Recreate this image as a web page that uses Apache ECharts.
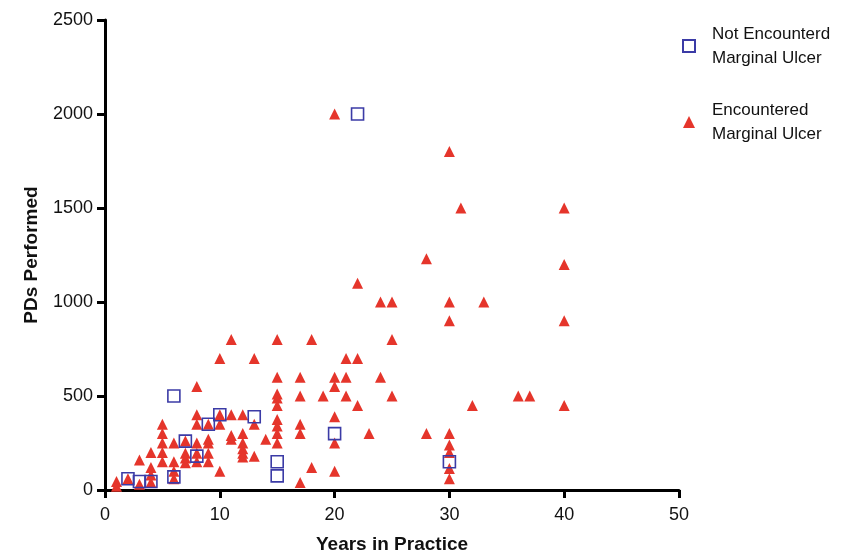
<!DOCTYPE html>
<html>
  <head>
    <meta charset="utf-8">
    <title>PDs Performed vs Years in Practice</title>
    <style>
      html, body { margin: 0; padding: 0; background: #fff; }
      #chart { width: 861px; height: 556px; }
    </style>
  </head>
  <body>
    <div id="chart"></div>
    <script src="https://cdn.jsdelivr.net/npm/echarts@6/dist/echarts.min.js"></script>
    <script>
      // Data: [years in practice, PDs performed]
      var notEncountered = [
        [2, 60], [3, 45], [4, 45], [6, 500], [6, 70], [7, 260], [8, 180],
        [9, 350], [10, 400], [13, 390], [15, 150], [15, 75], [20, 300],
        [22, 2000], [30, 150]
      ];
      var encountered = [
        [1, 45], [1, 20], [2, 60], [3, 160], [3, 30],
        [4, 200], [4, 120], [4, 80], [4, 40],
        [5, 350], [5, 300], [5, 250], [5, 200], [5, 150],
        [6, 250], [6, 150], [6, 100], [6, 60],
        [7, 260], [7, 195], [7, 170], [7, 145],
        [8, 550], [8, 400], [8, 350], [8, 250], [8, 195], [8, 150],
        [9, 350], [9, 270], [9, 250], [9, 195], [9, 150],
        [10, 700], [10, 400], [10, 350], [10, 100],
        [11, 800], [11, 400], [11, 290], [11, 270],
        [12, 400], [12, 300], [12, 250], [12, 220], [12, 195], [12, 175],
        [13, 700], [13, 350], [13, 180], [14, 270],
        [15, 800], [15, 600], [15, 510], [15, 490], [15, 450], [15, 375], [15, 340], [15, 300], [15, 250],
        [17, 600], [17, 500], [17, 350], [17, 300], [17, 40],
        [18, 800], [18, 120], [19, 500],
        [20, 2000], [20, 600], [20, 550], [20, 390], [20, 250], [20, 100],
        [21, 700], [21, 600], [21, 500],
        [22, 1100], [22, 700], [22, 450], [23, 300],
        [24, 1000], [24, 600], [25, 1000], [25, 800], [25, 500],
        [28, 1230], [28, 300],
        [30, 1800], [30, 1000], [30, 900], [30, 300], [30, 240], [30, 200], [30, 115], [30, 60],
        [31, 1500], [32, 450], [33, 1000], [36, 500], [37, 500],
        [40, 1500], [40, 1200], [40, 900], [40, 450]
      ];
      var seriesNames = ['Not Encounterd\nMarginal Ulcer', 'Encountered\nMarginal Ulcer'];

      var chart = echarts.init(document.getElementById('chart'));
      var axisFont = { fontFamily: 'Liberation Sans, Arial, sans-serif', fontSize: 18, color: '#111' };

      chart.setOption({
        animation: false,
        textStyle: { fontFamily: 'Liberation Sans, Arial, sans-serif' },
        grid: { left: 105, right: 182, top: 20, bottom: 66, containLabel: false, outerBoundsMode: 'none' },
        legend: {
          orient: 'vertical',
          left: 677,
          top: 17,
          itemGap: 28,
          itemWidth: 12,
          itemHeight: 12,
          textStyle: { fontSize: 17, lineHeight: 24, color: '#111', padding: [0, 0, 0, 12] },
          data: seriesNames
        },
        xAxis: {
          type: 'value',
          min: 0,
          max: 50,
          interval: 10,
          name: 'Years in Practice',
          nameLocation: 'middle',
          nameGap: 45,
          nameTextStyle: { fontSize: 19, fontWeight: 'bold', color: '#111' },
          axisLine: { show: true, lineStyle: { color: '#000', width: 3 } },
          axisTick: { show: true, length: 8, lineStyle: { color: '#000', width: 3 } },
          axisLabel: Object.assign({ margin: 16, formatter: '{value}' }, axisFont),
          splitLine: { show: false }
        },
        yAxis: {
          type: 'value',
          min: 0,
          max: 2500,
          interval: 500,
          name: 'PDs Performed',
          nameLocation: 'middle',
          nameGap: 64,
          nameRotate: 90,
          nameTextStyle: { fontSize: 19, fontWeight: 'bold', color: '#111' },
          axisLine: { show: true, lineStyle: { color: '#000', width: 3 } },
          axisTick: { show: true, length: 8, lineStyle: { color: '#000', width: 3 } },
          axisLabel: Object.assign({ margin: 12, formatter: function (v) { return String(v); } }, axisFont),
          splitLine: { show: false }
        },
        series: [
          {
            name: seriesNames[1],
            type: 'scatter',
            symbol: 'triangle',
            symbolSize: 11,
            itemStyle: { color: '#e5352b', opacity: 1 },
            data: encountered,
            z: 2
          },
          {
            name: seriesNames[0],
            type: 'scatter',
            symbol: 'rect',
            symbolSize: 12,
            itemStyle: { color: 'rgba(255,255,255,0)', borderColor: '#3b3ba6', borderWidth: 1.6, opacity: 1 },
            data: notEncountered,
            z: 3
          }
        ]
      });
    </script>
  </body>
</html>
